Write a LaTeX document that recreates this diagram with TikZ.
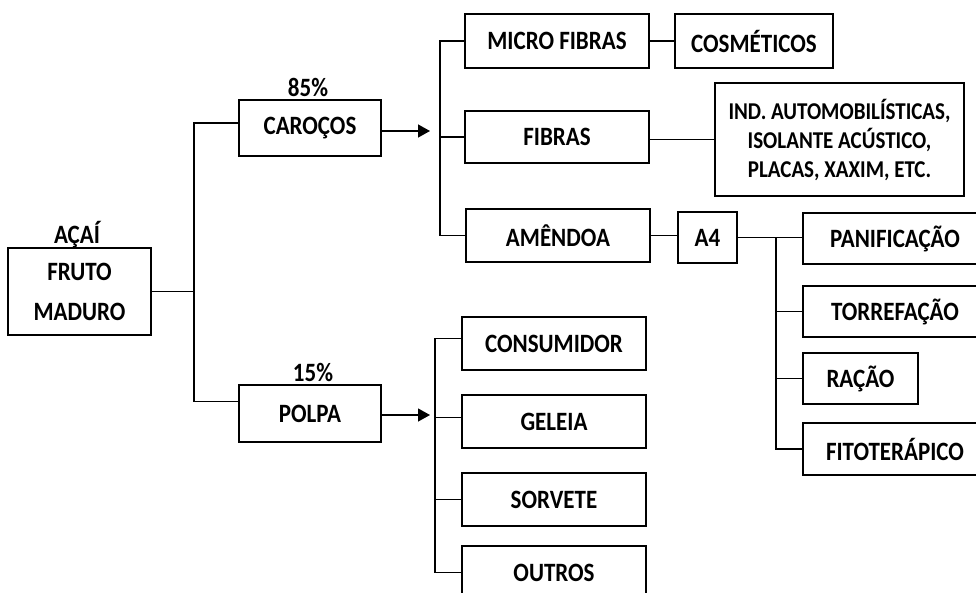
\documentclass[tikz,border=0pt]{standalone}
\usepackage{fontspec}
\setmainfont{Carlito}
\usetikzlibrary{arrows.meta}

\newcommand{\alto}[1]{\scalebox{1}[1.15]{#1}}

\tikzset{
  caixa/.style={draw, line width=1.3pt, inner sep=0pt, align=center, minimum height=53},
  rotulo/.style={inner sep=0pt},
  liga/.style={line width=1.3pt},
  seta/.style={line width=1.3pt, -{Triangle[length=12pt,width=13pt]}}
}

\begin{document}
\begin{tikzpicture}[x=1pt,y=-1pt,font=\bfseries\fontsize{23}{28}\selectfont]
\clip (0,0) rectangle (976,592);
\fill[white] (0,0) rectangle (976,592);

% fruto
\node[caixa, minimum width=143, minimum height=87] (fruto) at (79.5,291.5) {\alto{FRUTO}\\[12pt]\alto{MADURO}};
\node[rotulo] (acai) at (77,235) {\alto{AÇAÍ}};

\node[caixa, minimum width=142, minimum height=56] (caroco) at (310,128) {\alto{CAROÇOS}};
\node[rotulo] (pc85) at (308,87) {\alto{85\%}};
\node[caixa, minimum width=142, minimum height=57] (polpa) at (310,413.5) {\alto{POLPA}};
\node[rotulo] (pc15) at (313,372) {\alto{15\%}};

% caroco
\node[caixa, minimum width=184, minimum height=54] (micro) at (557,41) {\alto{MICRO FIBRAS}};
\node[caixa, minimum width=158, minimum height=54] (cosm) at (754,41) {\alto{COSMÉTICOS}};
\node[caixa, minimum width=184, minimum height=52] (fibras) at (557,137) {\alto{FIBRAS}};
\node[caixa, minimum width=249, minimum height=113, font=\bfseries\fontsize{21}{29}\selectfont] (ind) at (839.5,139.5) {\alto{IND. AUTOMOBILÍSTICAS,}\\\alto{ISOLANTE ACÚSTICO,}\\\alto{PLACAS, XAXIM, ETC.}};
\node[caixa, minimum width=184] (amendoa) at (558,235.5) {\alto{AMÊNDOA}};
\node[caixa, minimum width=59, minimum height=51] (a4) at (707.5,237.5) {\alto{A4}};

% a4
\node[caixa, minimum width=184, minimum height=51] (pani) at (895,238.5) {\alto{PANIFICAÇÃO}};
\node[caixa, minimum width=184, minimum height=51] (torre) at (895,311.5) {\alto{TORREFAÇÃO}};
\node[caixa, minimum width=115, minimum height=51] (racao) at (860.5,378.5) {\alto{RAÇÃO}};
\node[caixa, minimum width=184, minimum height=52] (fito) at (895,449) {\alto{FITOTERÁPICO}};

% polpa
\node[caixa, minimum width=184] (consum) at (554,343.5) {\alto{CONSUMIDOR}};
\node[caixa, minimum width=184] (geleia) at (554,421.5) {\alto{GELEIA}};
\node[caixa, minimum width=184] (sorvete) at (554,499.5) {\alto{SORVETE}};
\node[caixa, minimum width=184] (outros) at (554,572.5) {\alto{OUTROS}};

\coordinate (tF) at (194,0);
\coordinate (tC) at (440,0);
\coordinate (tP) at (435,0);
\coordinate (tA) at (776,0);
\coordinate (pC) at (430,131);
\coordinate (pP) at (430,415);

\draw[liga] (fruto.east) -- (fruto.east -| tF);
\draw[liga] ([yshift=5pt]caroco.west) -- ([yshift=5pt]caroco.west -| tF) -- ([yshift=12pt]polpa.west -| tF) -- ([yshift=12pt]polpa.west);
\draw[seta] ([yshift=-3pt]caroco.east) -- (pC);
\draw[seta] ([yshift=-1.5pt]polpa.east) -- (pP);

\draw[liga] (micro.west) -- (micro.west -| tC) -- (amendoa.west -| tC) -- (amendoa.west);
\draw[liga] (fibras.west) -- (fibras.west -| tC);
\draw[liga] (micro) -- (cosm);
\draw[liga] (ind.west) -- (ind.west -| fibras.east);
\draw[liga] (amendoa.east) -- (a4.west |- amendoa.east);

\draw[liga] (a4.east) -- (pani.west |- a4.east);
\draw[liga] (a4.east -| tA) -- (fito.west -| tA) -- (fito.west);
\draw[liga] (torre.west) -- (torre.west -| tA);
\draw[liga] (racao.west) -- (racao.west -| tA);

\draw[liga] ([yshift=5pt]consum.west) -- ([yshift=5pt]consum.west -| tP) -- (outros.west -| tP) -- (outros.west);
\draw[liga] ([yshift=4pt]geleia.west) -- ([yshift=4pt]geleia.west -| tP);
\draw[liga] (sorvete.west) -- (sorvete.west -| tP);
\end{tikzpicture}
\end{document}
